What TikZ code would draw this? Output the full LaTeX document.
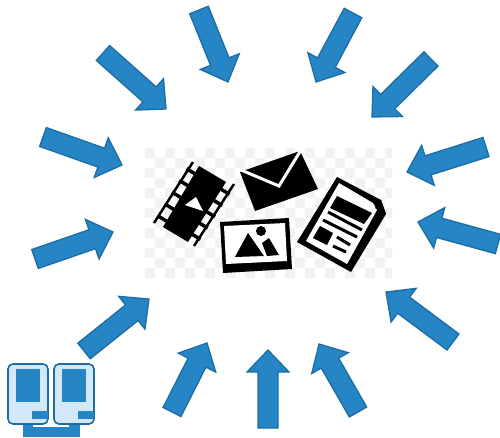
\documentclass[tikz,border=0pt]{standalone}
\usetikzlibrary{calc}
\definecolor{arrowblue}{HTML}{2585C5}
\definecolor{arrowedge}{HTML}{1C6DA3}
\definecolor{padblue}{HTML}{D2E7F7}
\tikzset{
    blockarrow/.style={fill=arrowblue,draw=arrowedge,line width=1.3pt,line join=miter},
    iconfill/.style={fill=black,draw=none},
    iconhole/.style={fill=white,draw=none},
    padcase/.style={fill=padblue,draw=arrowedge,line width=1.6pt,rounded corners=5pt},
    padpart/.style={fill=arrowblue,draw=none},
}
\begin{document}
\begin{tikzpicture}[x=1pt,y=-1pt]
    \useasboundingbox (0,0) rectangle (500,437);
    % Define dimensions
    \def\shaft{10}
    \def\headwidth{21}
    \def\headlength{22}
    \def\cellsize{10}
    % Draw checker paper behind the icons
    \begin{scope}
        \clip (145,148) rectangle (392,277);
        \foreach \i in {0,1,...,24}
            \foreach \j in {0,1,...,12} {
                \pgfmathtruncatemacro{\odd}{mod(\i+\j,2)}
                \ifnum\odd=0
                    \fill[black!5] (145+\i*\cellsize,148+\j*\cellsize) rectangle ++(\cellsize,\cellsize);
                \fi
            }
    \end{scope}
    % Film strip
    \draw[black,line width=2.5pt] (193,162) -- (154,223);
    \draw[black,line width=2.5pt] (234,184) -- (194,246);
    \foreach \t in {0,0.25,...,1} {
        \draw[black,line width=3.5pt] ($(192,172)!\t!(163,219)+(-5.5,-3.3)$) -- ($(192,172)!\t!(163,219)+(5.5,3.3)$);
        \draw[black,line width=3.5pt] ($(224,191)!\t!(195,236)+(-5.5,-3.3)$) -- ($(224,191)!\t!(195,236)+(5.5,3.3)$);
    }
    \fill[iconfill] (199,166) -- (226,182) -- (188,242) -- (163,227) -- cycle;
    \fill[iconhole] (196,197) -- (203,211) -- (185,205) -- cycle;
    % Envelope
    \fill[iconfill] (240,172) -- (300,151) -- (318,189) -- (255,211) -- cycle;
    \draw[white,line width=3pt] (241,170) -- (279,186) -- (301,150);
    % Photo
    \fill[iconfill] (220,222) -- (289,218) -- (292,269) -- (223,273) -- cycle;
    \fill[iconhole] (224,226) -- (285,223) -- (287,261) -- (226,264) -- cycle;
    \fill[iconfill] (235,257) -- (248,233) -- (264,256) -- cycle;
    \fill[iconfill] (262,243) -- (269,238) -- (279,255) -- (267,256) -- cycle;
    \fill[iconfill] (261,231) circle (5);
    % Document
    \fill[iconfill] (337,177) -- (381,200) -- (386,214) -- (351,272) -- (297,242) -- cycle;
    \fill[iconhole] (339,183) -- (373,203) -- (377,210) -- (347,264) -- (306,241) -- cycle;
    \fill[iconfill] (381,200) -- (375,208) -- (386,214) -- cycle;
    \fill[iconfill] (337,196) -- (372,213) -- (364,224) -- (330,208) -- cycle;
    \fill[iconfill] (320,226) -- (333,233) -- (327,245) -- (313,238) -- cycle;
    \draw[black,line width=3pt] (328,212) -- (362,230);
    \draw[black,line width=3pt] (323,220) -- (357,237);
    \draw[black,line width=3pt] (337,237) -- (350,245);
    \draw[black,line width=3pt] (333,246) -- (346,252);
    % Arrows round the icons
    \foreach \tx/\ty/\hx/\hy in {
        199/10/228/82, 353/13/316/82, 431/59/372/117, 486/147/407/172,
        498/244/418/222, 453/342/386/292, 358/412/319/344, 268/428/268/350,
        172/412/207/343, 84/351/149/299, 35/259/113/232, 43/137/122/165,
        103/53/166/109} {
        \pgfmathsetmacro{\ang}{atan2(\hy-\ty,\hx-\tx)}
        \pgfmathsetmacro{\len}{veclen(\hx-\tx,\hy-\ty)}
        \draw[blockarrow,shift={(\tx,\ty)},rotate=-\ang]
            (0,-\shaft) -- (\len-\headlength,-\shaft) -- (\len-\headlength,-\headwidth)
            -- (\len,0) -- (\len-\headlength,\headwidth) -- (\len-\headlength,\shaft)
            -- (0,\shaft) -- cycle;
    }
    % Two pads on a base
    \fill[padpart] (23,424) rectangle (80,437);
    \fill[iconhole] (33,424) rectangle (69,427);
    \foreach \x in {8,54} {
        \draw[padcase] (\x,364) rectangle (\x+40,424);
        \fill[padpart] (\x+8,369) rectangle (\x+32,402);
        \fill[padpart] (\x+24,411) rectangle (\x+40,419);
    }
\end{tikzpicture}
\end{document}
